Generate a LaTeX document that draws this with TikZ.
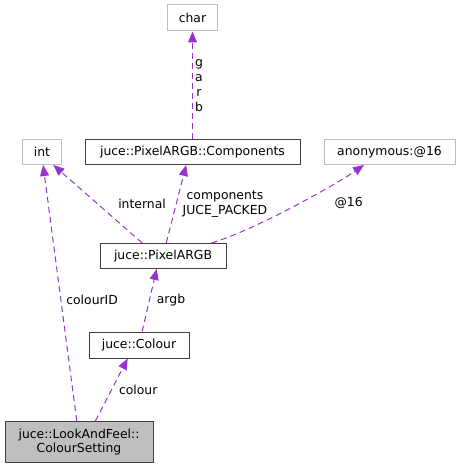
\documentclass[tikz,border=0pt]{standalone}
\usepackage{fontspec}
\setmainfont{DejaVu Sans}
\usetikzlibrary{arrows.meta}

\definecolor{orchid}{HTML}{9A32CD}
\definecolor{boxgray}{HTML}{BFBFBF}
\definecolor{boxline}{HTML}{404040}

\begin{document}
\begin{tikzpicture}[x=1pt, y=-1pt, font=\fontsize{12.4}{14}\selectfont,
	cls/.style={draw=boxline, line width=1pt, inner sep=0pt, align=center},
	ext/.style={draw=boxgray, line width=1pt, inner sep=0pt, align=center},
	dep/.style={draw=orchid, line width=1pt, dash pattern=on 6pt off 4pt,
		-{Triangle[length=11pt,width=9pt,fill=orchid]}},
	lbl/.style={inner sep=0pt, align=center, anchor=west, font=\fontsize{12.4}{15}\selectfont}]
	\useasboundingbox (0,0) rectangle (461,468);

	\node[ext, minimum width=50pt, minimum height=26pt] (char) at (192.5,18) {char};
	\node[ext, minimum width=39pt, minimum height=25pt] (int) at (42,152) {int};
	\node[cls, minimum width=215pt, minimum height=25pt] (comp) at (192.5,152) {juce::PixelARGB::Components};
	\node[ext, minimum width=131pt, minimum height=25pt] (anon) at (389.5,152) {anonymous:@16};
	\node[cls, minimum width=126pt, minimum height=25pt] (pix) at (163,256) {juce::PixelARGB};
	\node[cls, minimum width=100pt, minimum height=26pt] (colour) at (139,345) {juce::Colour};
	\node[cls, fill=boxgray, minimum width=148pt, minimum height=41pt] (cs) at (79,442) {juce::LookAndFeel::\\ColourSetting};

	\draw[dep] (comp.north) -- node[lbl, xshift=2pt] {g\\a\\r\\b} (char.south);
	\draw[dep] (pix.148) -- node[lbl, xshift=20pt] {internal} (int.-49);
	\draw[dep] (pix.76) -- node[lbl, xshift=6pt] {components\\JUCE\_PACKED} (comp.-116);
	\draw[dep] (pix.15) .. controls (255,230) and (335,185) .. node[lbl, pos=0.75, yshift=-19pt] {@16} (anon.-153);
	\draw[dep] (colour.77) -- node[lbl, xshift=7pt] {argb} (pix.-116);
	\draw[dep] (cs.52) -- node[lbl, xshift=7pt] {colour} (colour.-130);
	\draw[dep] (cs.96) -- node[lbl, pos=0.475, xshift=5pt] {colourID} (int.-85);
\end{tikzpicture}
\end{document}
